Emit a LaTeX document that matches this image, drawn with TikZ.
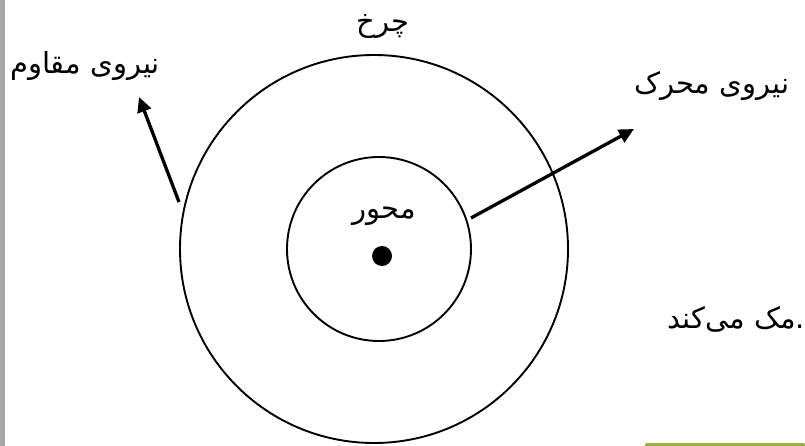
\documentclass[tikz,border=0pt]{standalone}
\usepackage{fontspec}
\usetikzlibrary{arrows.meta}
\TeXXeTstate=1
\newfontfamily\arabicfont[Script=Arabic]{DejaVu Sans}
\definecolor{barGray}{HTML}{A6A6A6}
\definecolor{barGreen}{HTML}{9BB040}
\tikzset{
  ring/.style={draw, circle, line width=1.9pt, inner sep=0pt},
  forcearrow/.style={line width=3.3pt, -{Triangle[length=15pt,width=14pt]}},
  fa/.style={font=\arabicfont\fontsize{29}{34}\selectfont, inner sep=0pt}
}
\begin{document}
\begin{tikzpicture}[x=1pt,y=-1pt]
\useasboundingbox (0,0) rectangle (805,446);
\fill[white] (0,0) rectangle (805,446);
\fill[barGray] (0,0) rectangle (4.5,446);
\fill[barGreen, rounded corners=1.5pt] (645,443) rectangle (805,449);
% circles
\node[ring, minimum size=388pt] (wheel) at (374,249) {};
\node[ring, minimum size=184pt] (axle) at (379,249) {};
\fill (382,256) circle (10pt);
\node (dot) at (382,256) {};
% labels
\node[fa] (lwheel) at (383,27) {\beginR چرخ\endR};
\node[fa] (laxle) at (384,216) {\beginR محور\endR};
\node[fa] (lresist) at (85,66) {\beginR نیروی مقاوم\endR};
\node[fa, anchor=west] (ldrive) at (634,86) {\beginR نیروی محرک\endR};
\node[fa, anchor=east] (lhelp) at (805,319) {\beginR مک می‌کند\endR.};
% arrows
\coordinate (rstart) at (179,202);
\coordinate (rtip) at (139,97);
\coordinate (dstart) at (471,218);
\coordinate (dtip) at (634,129);
\draw[forcearrow] (rstart) -- (rtip);
\draw[forcearrow] (dstart) -- (dtip);
\end{tikzpicture}
\end{document}
